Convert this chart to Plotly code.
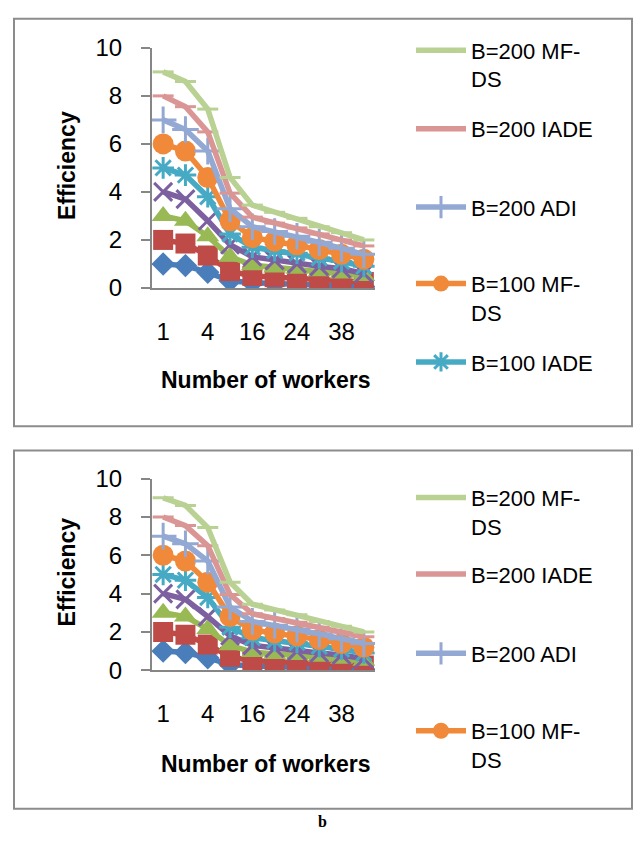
import plotly.graph_objects as go

W, H = 640, 843

workers = ["1", "2", "4", "8", "16", "20", "24", "32", "38", "40"]
shown_ticks = ["1", "4", "16", "24", "38"]

names = ["B=50 ADI", "B=50 IADE", "B=50 MF-DS", "B=100 ADI", "B=100 IADE",
         "B=100 MF-DS", "B=200 ADI", "B=200 IADE", "B=200 MF-DS"]
legend_names = ["B=50 ADI", "B=50 IADE", "B=50 MF-DS", "B=100 ADI", "B=100 IADE",
                "B=100 MF-<br>DS", "B=200 ADI", "B=200 IADE", "B=200 MF-<br>DS"]

s_b50_adi = [1.0, 0.93, 0.65, 0.3, 0.22, 0.18, 0.15, 0.12, 0.1, 0.05]
s_b50_iade = [2.0, 1.85, 1.35, 0.7, 0.5, 0.45, 0.4, 0.35, 0.3, 0.25]
s_b50_mfds = [3.0, 2.8, 2.15, 1.3, 0.95, 0.85, 0.8, 0.7, 0.6, 0.5]
s_b100_adi = [4.0, 3.7, 2.8, 1.8, 1.3, 1.15, 1.0, 0.9, 0.8, 0.6]
s_b100_iade = [5.0, 4.7, 3.8, 2.25, 1.7, 1.55, 1.45, 1.25, 1.1, 0.9]
s_b100_mfds = [6.0, 5.7, 4.6, 2.8, 2.1, 1.95, 1.8, 1.6, 1.4, 1.2]
s_b200_adi = [7.0, 6.6, 5.7, 3.3, 2.55, 2.35, 2.15, 1.9, 1.65, 1.4]
s_b200_iade = [8.0, 7.55, 6.5, 3.95, 2.95, 2.7, 2.5, 2.25, 2.0, 1.75]
s_b200_mfds = [9.0, 8.6, 7.45, 4.6, 3.45, 3.15, 2.9, 2.55, 2.3, 2.0]

series = [s_b50_adi, s_b50_iade, s_b50_mfds, s_b100_adi, s_b100_iade,
          s_b100_mfds, s_b200_adi, s_b200_iade, s_b200_mfds]

colors = ["#4A7EBB", "#BE4B48", "#98B954", "#7D60A0", "#46AAC5",
          "#F08A3A", "#93A9D3", "#D99694", "#B9D192"]
symbols = ["diamond", "square", "triangle-up", "x-thin", "asterisk",
           "circle", "cross-thin", "line-ew", "line-ew"]
msizes = [18, 20, 20, 18, 18, 21, 19, 15, 15]

# legend first-line centre y (px) for visible entries, per panel
leg_p1 = {8: 37, 7: 118, 6: 199, 5: 278, 4: 359}
leg_p2 = {8: 499, 7: 578, 6: 660, 5: 740}


def px(x):
    return x / W


def py(y):
    return 1 - y / H


fig = go.Figure()

legend_id = 1
layout_legends = {}
for panel, (xa, ya, legmap) in enumerate([("x", "y", leg_p1), ("x2", "y2", leg_p2)]):
    for i, vals in enumerate(series):
        sym = symbols[i]
        open_sym = sym in ("x-thin", "asterisk", "cross-thin", "line-ew")
        marker = dict(symbol=sym, size=msizes[i], color=colors[i],
                      line=dict(color=colors[i], width=3 if open_sym else 0))
        show = i in legmap
        kw = {}
        if show:
            lname = "legend" if legend_id == 1 else f"legend{legend_id}"
            kw["legend"] = lname
            layout_legends[lname] = dict(
                x=px(411), y=py(legmap[i] - 21), xanchor="left", yanchor="top",
                bgcolor="rgba(0,0,0,0)", borderwidth=0, itemwidth=50,
                valign="top", font=dict(family="Arial, Liberation Sans", size=22, color="#000"),
                itemclick=False, itemdoubleclick=False,
            )
            legend_id += 1
        fig.add_trace(go.Scatter(
            x=workers, y=vals, mode="lines+markers", name=legend_names[i],
            line=dict(color=colors[i], width=5.5),
            marker=marker, xaxis=xa, yaxis=ya, showlegend=show, **kw,
        ))

axis_common_x = dict(
    type="category", range=[-0.5, 9.5], tickmode="array", tickvals=shown_ticks,
    ticktext=shown_ticks, showline=True, linecolor="#868686", linewidth=2,
    ticks="", showgrid=False, zeroline=False, fixedrange=True,
    tickfont=dict(family="Arial, Liberation Sans", size=24, color="#000"),
    ticklabelstandoff=21,
)
axis_common_y = dict(
    range=[0, 10], tickmode="array", tickvals=[0, 2, 4, 6, 8, 10],
    showline=True, linecolor="#868686", linewidth=2, ticks="outside", ticklen=9,
    tickcolor="#868686", tickwidth=2, showgrid=False, zeroline=False, fixedrange=True,
    tickfont=dict(family="Arial, Liberation Sans", size=24, color="#000"),
    ticklabelstandoff=14,
)

fig.update_layout(
    width=W, height=H, margin=dict(l=0, r=0, t=0, b=0),
    paper_bgcolor="white", plot_bgcolor="white",
    xaxis=dict(domain=[px(152), px(375)], anchor="y", **axis_common_x),
    yaxis=dict(domain=[py(283), py(35)], anchor="x", **axis_common_y),
    xaxis2=dict(domain=[px(152), px(375)], anchor="y2", **axis_common_x),
    yaxis2=dict(domain=[py(678), py(480)], anchor="x2", **axis_common_y),
    **layout_legends,
)

frame = dict(type="rect", xref="paper", yref="paper",
             line=dict(color="#8C8C8C", width=2), fillcolor="rgba(0,0,0,0)", layer="below")
fig.add_shape(x0=px(14), x1=px(632), y0=py(426), y1=py(5), **frame)
fig.add_shape(x0=px(14), x1=px(632), y0=py(821), y1=py(451), **frame)

title_font = dict(family="Arial, Liberation Sans", size=23, color="#000")
for yc, xt in [(157, 378), (577, 775)]:
    fig.add_annotation(text="<b>Efficiency</b>", x=px(67), y=py(yc), xref="paper", yref="paper",
                       textangle=-90, showarrow=False, font=title_font,
                       xanchor="center", yanchor="middle")
    fig.add_annotation(text="<b>Number of workers</b>", x=px(266), y=py(xt), xref="paper",
                       yref="paper", showarrow=False, font=title_font,
                       xanchor="center", yanchor="middle")

fig.add_annotation(text="<b>b</b>", x=px(322), y=py(834), xref="paper", yref="paper",
                   showarrow=False, xanchor="center", yanchor="middle",
                   font=dict(family="Liberation Serif, Times New Roman", size=16, color="#000"))

fig.write_html("out.html")
